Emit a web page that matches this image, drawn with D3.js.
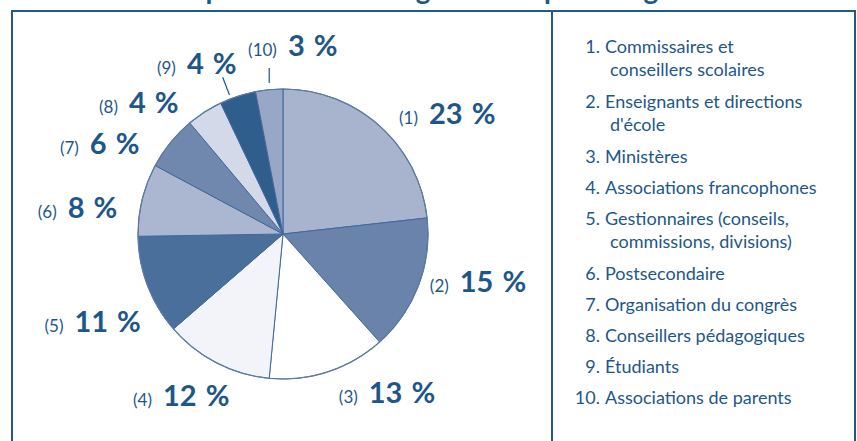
<html>
<head>
<style>
  body { margin: 0; background: #fff; }
  text { font-family: Lato, "Open Sans", sans-serif; }
</style>
</head>
<body>
<svg id="chart" width="857" height="441"></svg>
<script src="https://cdn.jsdelivr.net/npm/d3@7"></script>
<script>
  // data
  let sliceIds = ["1", "2", "3", "4", "5", "6", "7", "8", "9", "10"]
  let sliceValues = [23, 15, 13, 12, 11, 8, 6, 4, 4, 3]
  let sliceColors = ["#a8b4ce", "#6a83aa", "#ffffff", "#f2f4f9", "#4b6f9b",
                     "#abb6d0", "#7087ae", "#d3d9e8", "#2f5d8c", "#98a7c6"]
  let legendLines = [
    ["Commissaires et", "conseillers scolaires"],
    ["Enseignants et directions", "d'école"],
    ["Ministères"],
    ["Associations francophones"],
    ["Gestionnaires (conseils,", "commissions, divisions)"],
    ["Postsecondaire"],
    ["Organisation du congrès"],
    ["Conseillers pédagogiques"],
    ["Étudiants"],
    ["Associations de parents"]
  ]
  // label placement: [angle in degrees, distance from centre]
  let labelSpots = [[54, 203], [104, 201], [147, 191], [212, 192], [245, 210],
                    [277, 207], [296, 204], [312, 194], [333, 190], [3, 187]]

  let blue = "#1d578a"
  let svg = d3.select("#chart")

  // title, mostly cut off by the top edge
  svg.append("text")
    .attr("x", 440).attr("y", -1)
    .attr("text-anchor", "middle")
    .attr("font-size", 28).attr("font-weight", 700)
    .attr("fill", blue)
    .text("Répartition des congressistes par catégorie")

  // frame
  svg.append("path")
    .attr("d", "M12,450 V11 H855 V450 M552,11 V450")
    .attr("fill", "none")
    .attr("stroke", "#1f5a8c")
    .attr("stroke-width", 2)

  let cx = 283, cy = 234, radius = 145
  let pie = d3.pie().sort(null).value(d => d)
  let arcs = pie(sliceValues)
  let arc = d3.arc().innerRadius(0).outerRadius(radius)

  let body = svg.append("g").attr("transform", `translate(${cx},${cy})`)

  body.selectAll("path.slice")
    .data(arcs)
    .enter().append("path")
    .attr("class", "slice")
    .attr("d", arc)
    .attr("fill", (d, i) => sliceColors[i])
    .attr("stroke", "#41699a")
    .attr("stroke-width", 1)
    .attr("stroke-linejoin", "round")

  body.append("circle")
    .attr("r", radius)
    .attr("fill", "none")
    .attr("stroke", "#5d7ca5")
    .attr("stroke-width", 1.2)

  // labels
  let labels = body.selectAll("text.lab")
    .data(arcs)
    .enter().append("text")
    .attr("class", "lab")
    .attr("text-anchor", "middle")
    .attr("x", (d, i) => labelSpots[i][1] * Math.sin(labelSpots[i][0] * Math.PI / 180))
    .attr("y", (d, i) => -labelSpots[i][1] * Math.cos(labelSpots[i][0] * Math.PI / 180) + 9)
    .attr("fill", blue)

  labels.append("tspan")
    .attr("font-size", 17)
    .text((d, i) => "(" + sliceIds[i] + ")")
  labels.append("tspan")
    .attr("dx", 11)
    .attr("font-size", 29)
    .attr("font-weight", 700)
    .text(d => d.data)
  labels.append("tspan")
    .attr("dx", 9)
    .attr("font-size", 29)
    .attr("font-weight", 700)
    .text("%")

  // leader lines for the two thin slices at the top
  let a9 = arcs[8], a10 = arcs[9]
  let m9 = (a9.startAngle + a9.endAngle) / 2 - 0.05
  body.append("line")
    .attr("x1", 149 * Math.sin(m9)).attr("y1", -149 * Math.cos(m9))
    .attr("x2", 168 * Math.sin(m9)).attr("y2", -168 * Math.cos(m9))
    .attr("stroke", blue).attr("stroke-width", 1.2)
  let m10 = (a10.startAngle + a10.endAngle) / 2
  body.append("line")
    .attr("x1", radius * Math.sin(m10)).attr("y1", -radius - 6)
    .attr("x2", radius * Math.sin(m10)).attr("y2", -radius - 21)
    .attr("stroke", blue).attr("stroke-width", 1.2)

  // legend
  let legend = svg.append("g")
  let y = 53
  legendLines.forEach((lines, i) => {
    legend.append("text")
      .attr("x", 600).attr("y", y)
      .attr("text-anchor", "end")
      .attr("font-size", 18)
      .attr("fill", blue)
      .text(sliceIds[i] + ".")
    lines.forEach((t, j) => {
      legend.append("text")
        .attr("x", j === 0 ? 605 : 610).attr("y", y + j * 23)
        .attr("font-size", 18)
        .attr("fill", blue)
        .text(t)
    })
    y += 31 + (lines.length - 1) * 24
  })
</script>
</body>
</html>
